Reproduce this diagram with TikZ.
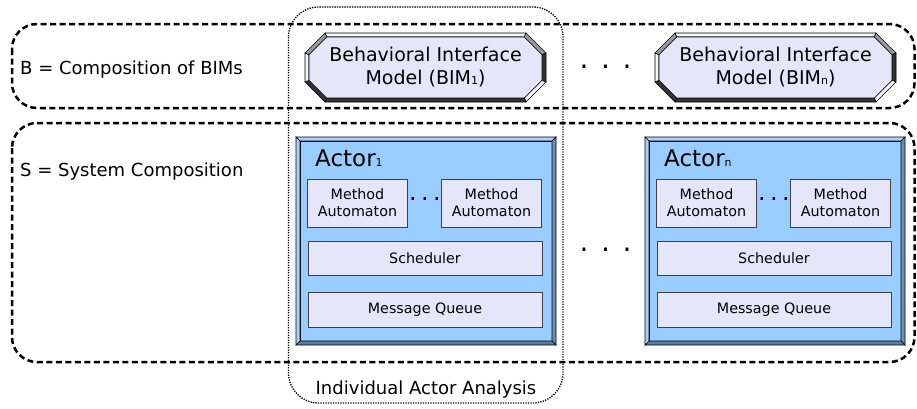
\documentclass[tikz,border=0pt]{standalone}
\usepackage{fontspec}
\setmainfont{DejaVu Sans}

\newcommand{\lowidx}[1]{{\fontsize{11}{11}\selectfont #1}}

\begin{document}
\begin{tikzpicture}[x=1pt,y=-1pt]
  \definecolor{lav}{HTML}{E6E6FA}
  \definecolor{actorblue}{HTML}{99CCFF}
  \definecolor{bevlight}{HTML}{F4F4F4}
  \definecolor{bevgray}{HTML}{9A9A9A}
  \definecolor{bevdark}{HTML}{333333}
  \definecolor{edgelight}{HTML}{A9D3FF}
  \definecolor{edgedark}{HTML}{6C8EB8}
  \definecolor{edgedarker}{HTML}{5B7DA5}
  \tikzstyle{every node}=[font=\fontsize{18}{21.6}\selectfont]
  \tikzstyle{group}=[draw, line width=2.5pt, dash pattern=on 6pt off 3.5pt, rounded corners=25pt]
  \tikzstyle{analysis}=[draw, line width=1.3pt, dash pattern=on 1.3pt off 1.2pt, rounded corners=30pt]
  \tikzstyle{bim}=[minimum width=241, minimum height=69, align=center, font=\fontsize{19}{23}\selectfont]
  \tikzstyle{actor}=[minimum width=260, minimum height=208, outer sep=0, inner sep=0]
  \tikzstyle{actorin}=[fill=actorblue, draw, line width=0.6pt, minimum width=252, minimum height=200, outer sep=0, inner sep=0]
  \tikzstyle{part}=[draw=black!75, fill=lav, line width=0.8pt, minimum width=100, minimum height=48, inner sep=0, align=center, font=\fontsize{14.3}{17.2}\selectfont]
  \tikzstyle{dots}=[inner sep=0, font=\fontsize{28}{28}\selectfont]

  \useasboundingbox (0,0) rectangle (917,408);

  % composition groups
  \path[group] (12,24) rectangle (914.5,108);
  \path[group] (12,123) rectangle (914.5,362);
  \path[analysis] (288.5,7) rectangle (563,403);

  \node[anchor=base west, inner sep=0] (blabel) at (20,74) {B = Composition of BIMs};
  \node[anchor=base west, inner sep=0] (slabel) at (20,176.7) {S = System Composition};
  \node[anchor=base, inner sep=0] (analysislabel) at (426,394) {Individual Actor Analysis};

  % behavioral interface models
  \foreach \s/\x in {1/425.5, n/775.5} {
    \begin{scope}[shift={(\x,67.5)}]
      \coordinate (o1) at (-100.5,-34.5); \coordinate (o2) at (100.5,-34.5);
      \coordinate (o3) at (120.5,-14.5);  \coordinate (o4) at (120.5,14.5);
      \coordinate (o5) at (100.5,34.5);   \coordinate (o6) at (-100.5,34.5);
      \coordinate (o7) at (-120.5,14.5);  \coordinate (o8) at (-120.5,-14.5);
      \coordinate (i1) at (-98.8,-30.5);  \coordinate (i2) at (98.8,-30.5);
      \coordinate (i3) at (116.5,-12.8);  \coordinate (i4) at (116.5,12.8);
      \coordinate (i5) at (98.8,30.5);    \coordinate (i6) at (-98.8,30.5);
      \coordinate (i7) at (-116.5,12.8);  \coordinate (i8) at (-116.5,-12.8);
      \foreach \a/\b/\col in {1/2/bevlight, 2/3/bevgray, 3/4/bevdark, 4/5/bevlight,
                              5/6/bevdark, 6/7/bevdark, 7/8/bevlight, 8/1/bevgray}
        \filldraw[fill=\col, line width=0.6pt] (o\a) -- (o\b) -- (i\b) -- (i\a) -- cycle;
      \filldraw[fill=lav, line width=0.6pt] (i1) -- (i2) -- (i3) -- (i4) -- (i5) -- (i6) -- (i7) -- (i8) -- cycle;
      \node[bim] (bim\s) at (0,0) {Behavioral Interface\\Model (BIM\lowidx{\s})};
    \end{scope}
  }
  \node[dots] (bimdots) at (605.5,67) {.\hspace{12.6pt}.\hspace{12.6pt}.};

  % actors
  \foreach \s/\x in {1/0, n/349} {
    \begin{scope}[xshift=\x]
      \node[actor] (actor\s) at (426,241) {};
      \node[actorin] (actorin\s) at (426,241) {};
      \foreach \a/\b/\col in {north west/north east/edgelight, north east/south east/edgedark,
                              south east/south west/edgedarker, south west/north west/edgelight}
        \filldraw[fill=\col, line width=0.6pt] (actor\s.\a) -- (actor\s.\b) -- (actorin\s.\b) -- (actorin\s.\a) -- cycle;
      \node[anchor=base west, inner sep=0, font=\fontsize{23}{27}\selectfont] (title\s) at (315,166) {Actor\lowidx{\s}};
      \node[part] (methoda\s) at (357.5,203) {Method\\Automaton};
      \node[part] (methodb\s) at (491.5,203) {Method\\Automaton};
      \node[dots, font=\fontsize{24}{24}\selectfont] (methoddots\s) at (425,199) {.\hspace{4.4pt}.\hspace{4.4pt}.};
      \node[part, minimum width=234, minimum height=34] (sched\s) at (425,258) {Scheduler};
      \node[part, minimum width=234, minimum height=35] (queue\s) at (425,309.5) {Message Queue};
    \end{scope}
  }
  \node[dots] (actordots) at (605.5,250) {.\hspace{12.6pt}.\hspace{12.6pt}.};
\end{tikzpicture}
\end{document}
